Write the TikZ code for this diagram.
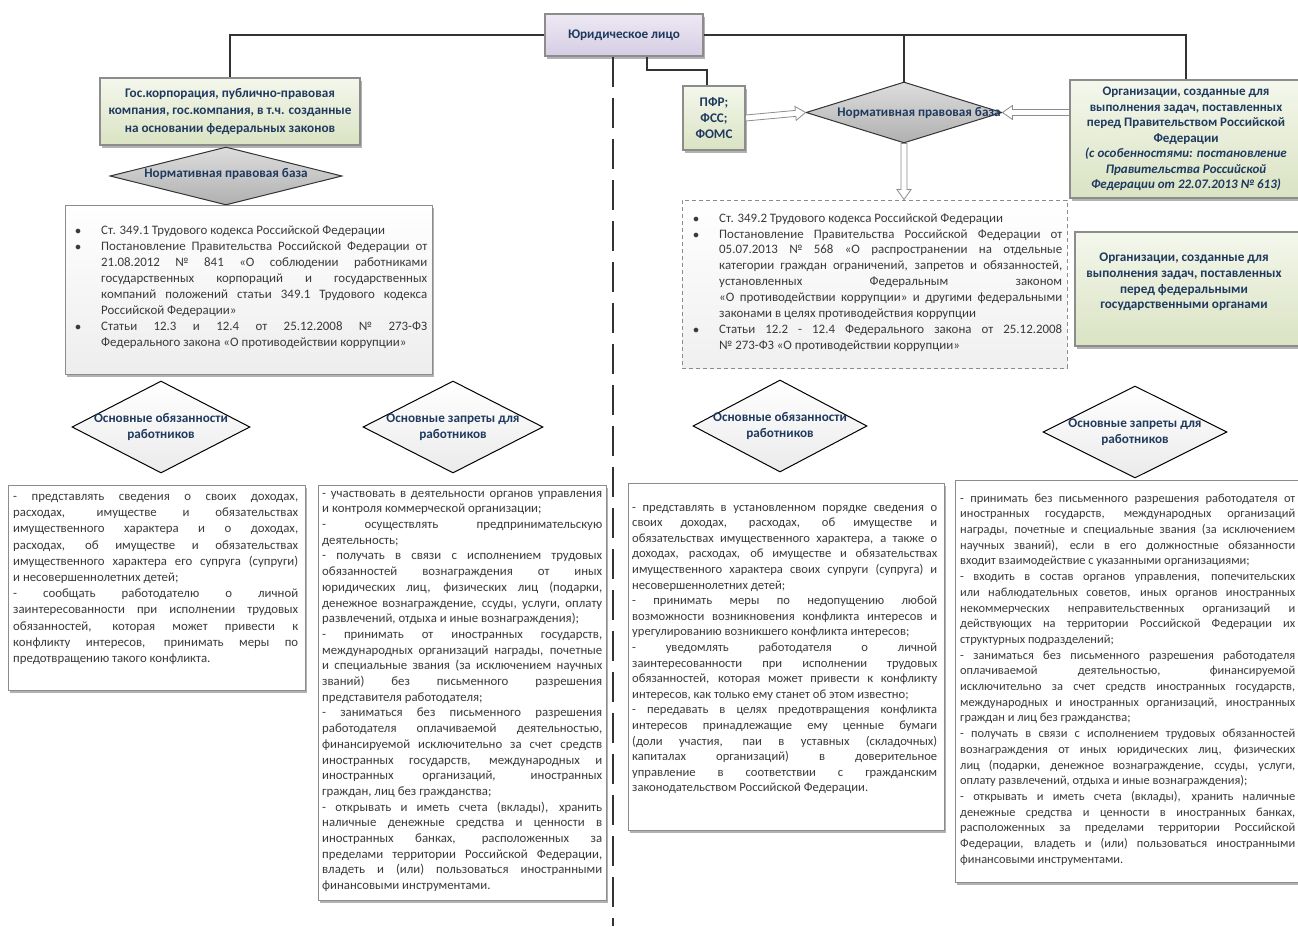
\documentclass[tikz,border=0pt]{standalone}
\usepackage{fontspec}
\setmainfont{Carlito}
\usetikzlibrary{shapes.geometric,calc,shadows}
\definecolor{hdrc}{HTML}{1F3A5F}
\definecolor{bodyc}{HTML}{3A3A3A}
\definecolor{linec}{HTML}{333333}
\definecolor{bordc}{HTML}{8C8C8C}
\definecolor{grtop}{HTML}{F4F7EC}
\definecolor{grbot}{HTML}{DAE3C3}
\definecolor{lvtop}{HTML}{EEE9F4}
\definecolor{lvbot}{HTML}{D5CDE3}
\definecolor{gytop}{HTML}{DDDDDD}
\definecolor{gybot}{HTML}{B0B0B0}
\newcommand\bitem{\par\noindent\hangindent=26pt\hangafter=1\makebox[26pt][l]{$\bullet$}}
\newcommand\bodyfont[2]{\fontsize{#1}{#2}\selectfont\tolerance=9999\emergencystretch=2em\hyphenpenalty=10000\exhyphenpenalty=10000}
\tikzset{
  conn/.style={draw=linec, line width=1.5pt},
  dline/.style={draw=linec, line width=1.8pt, dash pattern=on 30pt off 11pt},
  hollow/.style={draw=bordc, fill=white, line width=0.8pt,
    to path={-- ($(\tikztostart)!3pt!90:(\tikztotarget)$)
      -- ($($(\tikztotarget)!10pt!(\tikztostart)$)!3pt!90:(\tikztotarget)$)
      -- ($($(\tikztotarget)!10pt!(\tikztostart)$)!7pt!90:(\tikztotarget)$)
      -- (\tikztotarget)
      -- ($($(\tikztotarget)!10pt!(\tikztostart)$)!7pt!-90:(\tikztotarget)$)
      -- ($($(\tikztotarget)!10pt!(\tikztostart)$)!3pt!-90:(\tikztotarget)$)
      -- ($(\tikztostart)!3pt!-90:(\tikztotarget)$) -- cycle}},
  shd/.style={drop shadow={shadow xshift=2pt, shadow yshift=-3pt, opacity=0.3, fill=black}},
  hdr/.style={font=\fontsize{13.2}{15.8}\selectfont\bfseries, text=hdrc, align=center, inner sep=0},
  topbox/.style={draw=bordc, line width=1.5pt, top color=lvtop, bottom color=lvbot, shd, inner sep=0, hdr},
  greenbox/.style={draw=bordc, line width=1.2pt, top color=grtop, bottom color=grbot, shd, inner sep=0, hdr},
  graydia/.style={diamond, draw=linec, line width=1pt, top color=gytop, bottom color=gybot, inner sep=0},
  whitedia/.style={diamond, draw=black, line width=1pt, top color=white, bottom color=black!8, inner sep=0},
  listbox/.style={draw=bordc, line width=1pt, top color=white, bottom color=black!7, shd, inner sep=0},
  dashbox/.style={draw=bordc, line width=0.9pt, dash pattern=on 4pt off 3pt, top color=white, bottom color=black!6, inner sep=0},
  txtbox/.style={draw=bordc, line width=1pt, fill=white, shd, inner sep=0},
  body/.style={text=bodyc, align=justify, inner sep=0, anchor=north west}
}
\begin{document}
\begin{tikzpicture}[x=1pt,y=-1pt]
\fill[white] (0,0) rectangle (1298,926);
\useasboundingbox (0,0) rectangle (1298,926);

% top
\node[topbox, minimum width=158, minimum height=42] (top) at (624,35) {Юридическое лицо};
\coordinate (dend) at (613,926);
\draw[dline] (top.south -| dend) -- (dend);

% left side
\node[greenbox, minimum width=260, minimum height=67, font=\fontsize{13.2}{17.5}\selectfont\bfseries] (gL) at (230,111.5)
  {Гос.корпорация, публично-правовая\\компания, гос.компания, в т.ч. созданные\\на основании федеральных законов};
\draw[conn] (top.west) -| (gL.north);
\node[graydia, minimum width=232, minimum height=58] (dL) at (226,176) {};
\node[hdr] (dLt) at (226,174) {Нормативная правовая база};

\node[listbox, minimum width=367, minimum height=169] (lL) at (248.5,289.5) {};
\node[body, text width=352, font=\bodyfont{12.9}{16}] (lLt) at (75,218) {%
\bitem\strut Ст. 349.1 Трудового кодекса Российской Федерации
\bitem Постановление Правительства Российской Федерации от\linebreak
21.08.2012 № 841 «О соблюдении работниками\linebreak
государственных корпораций и государственных\linebreak
компаний положений статьи 349.1 Трудового кодекса\linebreak
Российской Федерации»
\bitem Статьи 12.3 и 12.4 от 25.12.2008 № 273-ФЗ\linebreak
Федерального закона «О противодействии коррупции»\par};

\node[whitedia, minimum width=178, minimum height=92] (dL1) at (161,427) {};
\node[hdr] (dL1t) at (dL1.center) {Основные обязанности\\работников};
\node[whitedia, minimum width=180, minimum height=92] (dL2) at (453,427) {};
\node[hdr] (dL2t) at (dL2.center) {Основные запреты для\\работников};

\node[txtbox, minimum width=297, minimum height=205] (bL1) at (156.5,587.5) {};
\node[body, text width=285, font=\bodyfont{12.8}{16.2}] (bL1t) at (13,489) {%
\strut- представлять сведения о своих доходах,\linebreak
расходах, имуществе и обязательствах\linebreak
имущественного характера и о доходах,\linebreak
расходах, об имуществе и обязательствах\linebreak
имущественного характера его супруга (супруги)\linebreak
и несовершеннолетних детей;\par
- сообщать работодателю о личной\linebreak
заинтересованности при исполнении трудовых\linebreak
обязанностей, которая может привести к\linebreak
конфликту интересов, принимать меры по\linebreak
предотвращению такого конфликта.\par};

\node[txtbox, minimum width=288, minimum height=415] (bL2) at (462,692.5) {};
\node[body, text width=280, font=\bodyfont{12.8}{15.7}] (bL2t) at (322,486) {%
\strut- участвовать в деятельности органов управления\linebreak
и контроля коммерческой организации;\par
- осуществлять предпринимательскую\linebreak
деятельность;\par
- получать в связи с исполнением трудовых\linebreak
обязанностей вознаграждения от иных\linebreak
юридических лиц, физических лиц (подарки,\linebreak
денежное вознаграждение, ссуды, услуги, оплату\linebreak
развлечений, отдыха и иные вознаграждения);\par
- принимать от иностранных государств,\linebreak
международных организаций награды, почетные\linebreak
и специальные звания (за исключением научных\linebreak
званий) без письменного разрешения\linebreak
представителя работодателя;\par
- заниматься без письменного разрешения\linebreak
работодателя оплачиваемой деятельностью,\linebreak
финансируемой исключительно за счет средств\linebreak
иностранных государств, международных и\linebreak
иностранных организаций, иностранных\linebreak
граждан, лиц без гражданства;\par
- открывать и иметь счета (вклады), хранить\linebreak
наличные денежные средства и ценности в\linebreak
иностранных банках, расположенных за\linebreak
пределами территории Российской Федерации,\linebreak
владеть и (или) пользоваться иностранными\linebreak
финансовыми инструментами.\par};

% right side
\node[greenbox, minimum width=62, minimum height=64] (pfr) at (714,118) {ПФР;\\ФСС;\\ФОМС};
\coordinate (j1) at (707,70);
\draw[conn] ([xshift=23pt]top.south) |- (j1) -- (j1 |- pfr.north);
\node[graydia, minimum width=196, minimum height=61] (dR) at (904,112.5) {};
\node[hdr] (dRt) at (919,113) {Нормативная правовая база};
\draw[conn] (top.east) -| (dR.north);
\node[greenbox, minimum width=232, minimum height=118, font=\fontsize{13}{15.5}\selectfont\bfseries] (gR1) at (1186,139)
  {Организации, созданные для\\выполнения задач, поставленных\\перед Правительством Российской\\Федерации\\
   \itshape(с особенностями: постановление\\\itshape Правительства Российской\\\itshape Федерации от 22.07.2013 № 613)};
\draw[conn] (top.east) -| (gR1.north);
\draw[hollow] (pfr.east) to (dR.west);
\draw[hollow] (gR1.west |- dR.east) to (dR.east);

\node[dashbox, minimum width=385, minimum height=168] (lR) at (874.5,284) {};
\draw[hollow] (dR.south) to (dR.south |- lR.north);
\node[body, text width=369, font=\bodyfont{12.9}{15.9}] (lRt) at (693,206) {%
\bitem\strut Ст. 349.2 Трудового кодекса Российской Федерации
\bitem Постановление Правительства Российской Федерации от\linebreak
05.07.2013 № 568 «О распространении на отдельные\linebreak
категории граждан ограничений, запретов и обязанностей,\linebreak
установленных Федеральным законом\linebreak
«О противодействии коррупции» и другими федеральными\linebreak
законами в целях противодействия коррупции
\bitem Статьи 12.2 - 12.4 Федерального закона от 25.12.2008\linebreak
№ 273-ФЗ «О противодействии коррупции»\par};

\node[greenbox, minimum width=227, minimum height=114] (gR2) at (1188.5,289) {};
\node[hdr] (gR2t) at (1184,282) {Организации, созданные для\\выполнения задач, поставленных\\перед федеральными\\государственными органами};

\node[whitedia, minimum width=174, minimum height=92] (dR1) at (780,426) {};
\node[hdr] (dR1t) at (dR1.center) {Основные обязанности\\работников};
\node[whitedia, minimum width=184, minimum height=92] (dR2) at (1135,432) {};
\node[hdr] (dR2t) at (dR2.center) {Основные запреты для\\работников};

\node[txtbox, minimum width=316, minimum height=347] (bR1) at (786,656.5) {};
\node[body, text width=305, font=\bodyfont{12.6}{15.6}] (bR1t) at (632,500) {%
\strut- представлять в установленном порядке сведения о\linebreak
своих доходах, расходах, об имуществе и\linebreak
обязательствах имущественного характера, а также о\linebreak
доходах, расходах, об имуществе и обязательствах\linebreak
имущественного характера своих супруги (супруга) и\linebreak
несовершеннолетних детей;\par
- принимать меры по недопущению любой\linebreak
возможности возникновения конфликта интересов и\linebreak
урегулированию возникшего конфликта интересов;\par
- уведомлять работодателя о личной\linebreak
заинтересованности при исполнении трудовых\linebreak
обязанностей, которая может привести к конфликту\linebreak
интересов, как только ему станет об этом известно;\par
- передавать в целях предотвращения конфликта\linebreak
интересов принадлежащие ему ценные бумаги\linebreak
(доли участия, паи в уставных (складочных)\linebreak
капиталах организаций) в доверительное\linebreak
управление в соответствии с гражданским\linebreak
законодательством Российской Федерации.\par};

\node[txtbox, minimum width=347, minimum height=402] (bR2) at (1128.5,681) {};
\node[body, text width=335, font=\bodyfont{12.4}{15.7}] (bR2t) at (960,491) {%
\strut- принимать без письменного разрешения работодателя от\linebreak
иностранных государств, международных организаций\linebreak
награды, почетные и специальные звания (за исключением\linebreak
научных званий), если в его должностные обязанности\linebreak
входит взаимодействие с указанными организациями;\par
- входить в состав органов управления, попечительских\linebreak
или наблюдательных советов, иных органов иностранных\linebreak
некоммерческих неправительственных организаций и\linebreak
действующих на территории Российской Федерации их\linebreak
структурных подразделений;\par
- заниматься без письменного разрешения работодателя\linebreak
оплачиваемой деятельностью, финансируемой\linebreak
исключительно за счет средств иностранных государств,\linebreak
международных и иностранных организаций, иностранных\linebreak
граждан и лиц без гражданства;\par
- получать в связи с исполнением трудовых обязанностей\linebreak
вознаграждения от иных юридических лиц, физических\linebreak
лиц (подарки, денежное вознаграждение, ссуды, услуги,\linebreak
оплату развлечений, отдыха и иные вознаграждения);\par
- открывать и иметь счета (вклады), хранить наличные\linebreak
денежные средства и ценности в иностранных банках,\linebreak
расположенных за пределами территории Российской\linebreak
Федерации, владеть и (или) пользоваться иностранными\linebreak
финансовыми инструментами.\par};
\end{tikzpicture}
\end{document}
